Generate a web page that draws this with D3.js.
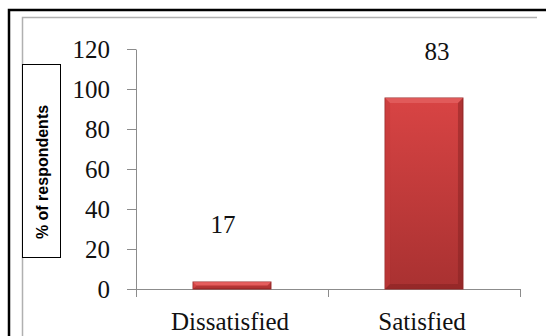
<!DOCTYPE html>
<html>
<head>
<meta charset="utf-8">
<script src="https://cdn.jsdelivr.net/npm/d3@7"></script>
<style>
  body { margin: 0; background: #fff; }
  svg { display: block; }
</style>
</head>
<body>
<div id="chart"></div>
<script>
// chart data
const categories = ["Dissatisfied", "Satisfied"];
const barValues = [3.5, 95.5];
const valueLabels = ["17", "83"];
const yTicks = [0, 20, 40, 60, 80, 100, 120];
const yTitle = "% of respondents";

const W = 546, H = 336;
const svg = d3.select("#chart").append("svg")
    .attr("width", W)
    .attr("height", H);

// frame: outer black, inner grey
svg.append("path")
    .attr("d", "M9,336 V10 H546")
    .attr("fill", "none")
    .attr("stroke", "#000")
    .attr("stroke-width", 2.5);
svg.append("path")
    .attr("d", "M22.5,336 V17.5 H537")
    .attr("fill", "none")
    .attr("stroke", "#b0b0b0")
    .attr("stroke-width", 1.5);

const x = d3.scaleBand()
    .domain(categories)
    .range([136, 520])
    .paddingInner(0.594)
    .paddingOuter(0.297);

const y = d3.scaleLinear()
    .domain([0, 120])
    .range([289, 49]);

const serif = "'Liberation Serif', 'Times New Roman', serif";

// gradients for bars
const defs = svg.append("defs");
const grad = defs.append("linearGradient")
    .attr("id", "barGrad")
    .attr("x1", 0).attr("y1", 0).attr("x2", 0).attr("y2", 1);
grad.append("stop").attr("offset", "0%").attr("stop-color", "#d84444");
grad.append("stop").attr("offset", "100%").attr("stop-color", "#a93131");

const gradSmall = defs.append("linearGradient")
    .attr("id", "barGradSmall")
    .attr("x1", 0).attr("y1", 0).attr("x2", 0).attr("y2", 1);
gradSmall.append("stop").attr("offset", "0%").attr("stop-color", "#f05a5a");
gradSmall.append("stop").attr("offset", "100%").attr("stop-color", "#d84040");

// y axis
const yAxis = svg.append("g")
    .attr("transform", "translate(136,0)")
    .call(d3.axisLeft(y).tickValues(yTicks).tickSize(9).tickSizeOuter(0).tickPadding(17));
yAxis.select(".domain").attr("stroke", "#8c8c8c");
yAxis.selectAll(".tick line").attr("stroke", "#8c8c8c");
yAxis.selectAll(".tick text")
    .attr("font-family", serif)
    .attr("font-size", 25)
    .attr("fill", "#111");
// axis line runs a bit below zero
svg.append("line")
    .attr("x1", 136.5).attr("x2", 136.5)
    .attr("y1", y(0)).attr("y2", y(0) + 8)
    .attr("stroke", "#8c8c8c");

// x axis
const xAxisG = svg.append("g");
xAxisG.append("line")
    .attr("x1", 136).attr("x2", 521)
    .attr("y1", y(0) + 0.5).attr("y2", y(0) + 0.5)
    .attr("stroke", "#8c8c8c");
const bounds = [x.range()[0], (x("Dissatisfied") + x.bandwidth() + x("Satisfied")) / 2, x.range()[1]];
xAxisG.selectAll("line.tk")
    .data(bounds.slice(1))
    .enter().append("line")
    .attr("class", "tk")
    .attr("x1", d => d + 0.5).attr("x2", d => d + 0.5)
    .attr("y1", y(0)).attr("y2", y(0) + 8)
    .attr("stroke", "#8c8c8c");

xAxisG.selectAll("text")
    .data(categories)
    .enter().append("text")
    .attr("x", d => x(d) + x.bandwidth() / 2 - 2)
    .attr("y", 330)
    .attr("text-anchor", "middle")
    .attr("font-family", serif)
    .attr("font-size", 25)
    .attr("fill", "#111")
    .text(d => d);

// bars
const bars = svg.selectAll("g.bar")
    .data(categories.map((c, i) => ({ name: c, value: barValues[i], label: valueLabels[i], i: i })))
    .enter().append("g")
    .attr("class", "bar");

bars.append("rect")
    .attr("x", d => x(d.name))
    .attr("y", d => y(d.value))
    .attr("width", x.bandwidth())
    .attr("height", d => y(0) - y(d.value))
    .attr("fill", d => d.value < 10 ? "url(#barGradSmall)" : "url(#barGrad)")
    .attr("stroke", "#9a2a2a")
    .attr("stroke-width", 1);

// bevel edges
const bev = 5;
bars.append("path")
    .attr("d", d => {
        const x0 = x(d.name), x1 = x0 + x.bandwidth();
        const t = y(d.value), b = y(0);
        const e = Math.min(bev, (b - t) / 2);
        return `M${x0},${t} L${x1},${t} L${x1 - e},${t + e} L${x0 + e},${t + e} Z`;
    })
    .attr("fill", "#e36060")
    .attr("opacity", 0.8);
bars.append("path")
    .attr("d", d => {
        const x0 = x(d.name), x1 = x0 + x.bandwidth();
        const t = y(d.value), b = y(0);
        const e = Math.min(bev, (b - t) / 2);
        return `M${x1},${t} L${x1},${b} L${x1 - e},${b - e} L${x1 - e},${t + e} Z` +
               `M${x0},${b} L${x1},${b} L${x1 - e},${b - e} L${x0 + e},${b - e} Z`;
    })
    .attr("fill", "#7e2020")
    .attr("opacity", 0.45);
bars.append("path")
    .attr("d", d => {
        const x0 = x(d.name);
        const t = y(d.value), b = y(0);
        const e = Math.min(bev, (b - t) / 2);
        return `M${x0},${t} L${x0 + e},${t + e} L${x0 + e},${b - e} L${x0},${b} Z`;
    })
    .attr("fill", "#c33a3a")
    .attr("opacity", 0.5);

// value labels (placed as in the original, not at bar tops)
const labelShift = [{ dx: -9, y: 233 }, { dx: 13, y: 60 }];
bars.append("text")
    .attr("x", d => x(d.name) + x.bandwidth() / 2 + labelShift[d.i].dx)
    .attr("y", d => labelShift[d.i].y)
    .attr("text-anchor", "middle")
    .attr("font-family", serif)
    .attr("font-size", 25)
    .attr("fill", "#111")
    .text(d => d.label);

// y title in a box
svg.append("rect")
    .attr("x", 22.5).attr("y", 64.5)
    .attr("width", 38).attr("height", 193)
    .attr("fill", "#fff")
    .attr("stroke", "#000")
    .attr("stroke-width", 1);
svg.append("text")
    .attr("transform", "translate(42,172) rotate(-90)")
    .attr("text-anchor", "middle")
    .attr("dy", "0.35em")
    .attr("font-family", "'Liberation Sans', Arial, sans-serif")
    .attr("font-weight", "bold")
    .attr("font-size", 16)
    .attr("fill", "#000")
    .text(yTitle);
</script>
</body>
</html>
